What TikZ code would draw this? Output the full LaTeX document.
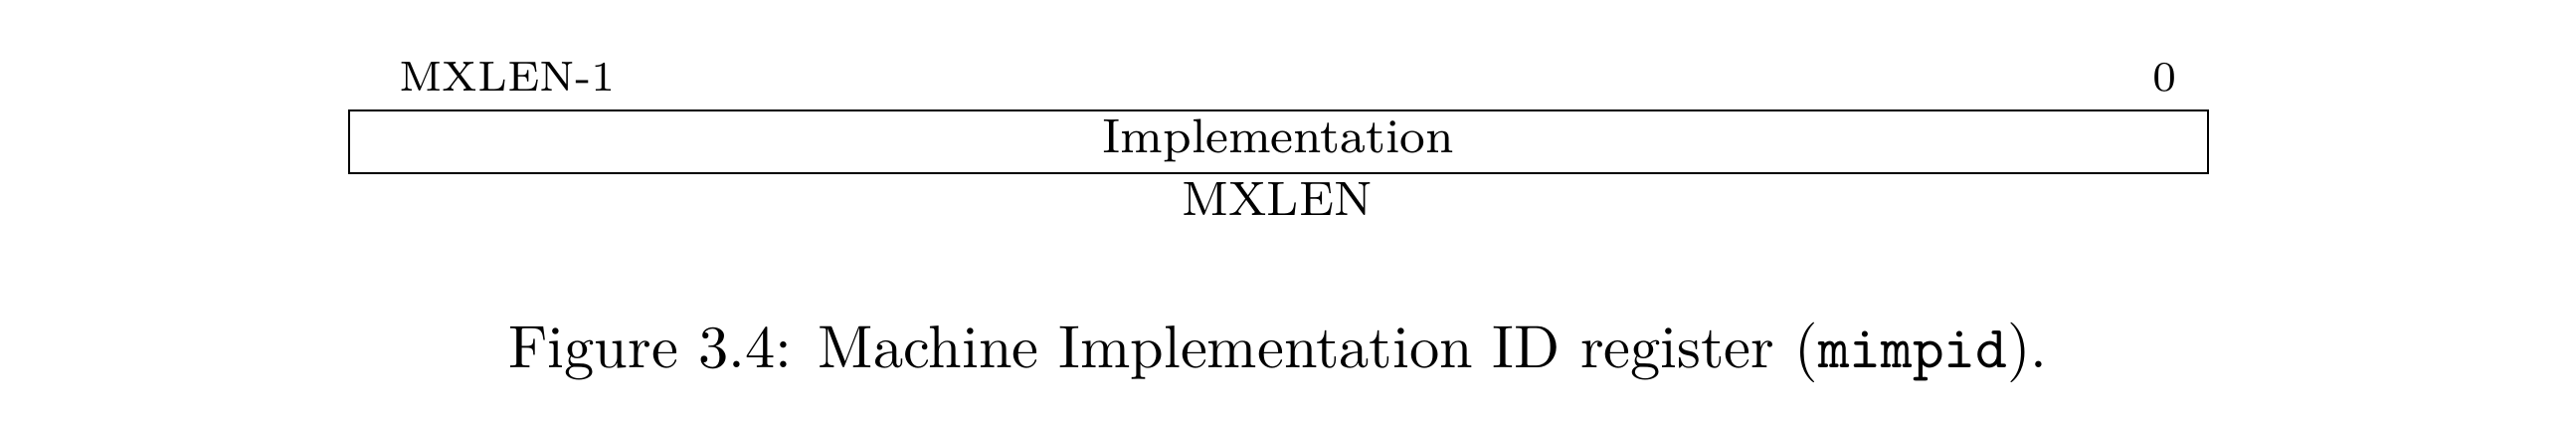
\documentclass[tikz,border=0pt]{standalone}
\begin{document}
\begin{tikzpicture}[x=0.1655pt, y=-0.1655pt,
  regbox/.style={draw, line width=0.4pt, inner sep=0pt, minimum width=309.3pt, minimum height=10.43pt},
  bitlabel/.style={inner sep=0pt, font=\fontsize{7}{8.5}\selectfont},
  fieldlabel/.style={inner sep=0pt, anchor=base, font=\fontsize{8}{9.5}\selectfont},
  captiontext/.style={inner sep=0pt, anchor=base, font=\fontsize{10}{12}\selectfont}]
\useasboundingbox (0,0) rectangle (2590,431);
\node[regbox] (box) at (1285.5,142.5) {};
\node[bitlabel, anchor=base west] (hi) at (400,92) {MXLEN-1};
\node[bitlabel, anchor=base east] (lo) at (2190,92) {0};
\node[fieldlabel] (field) at (1285,154) {Implementation};
\node[fieldlabel] (width) at (1284,217) {MXLEN};
\node[captiontext] (cap) at (1285,370) {Figure 3.4: Machine Implementation ID register (\texttt{mimpid}).};
\end{tikzpicture}
\end{document}
